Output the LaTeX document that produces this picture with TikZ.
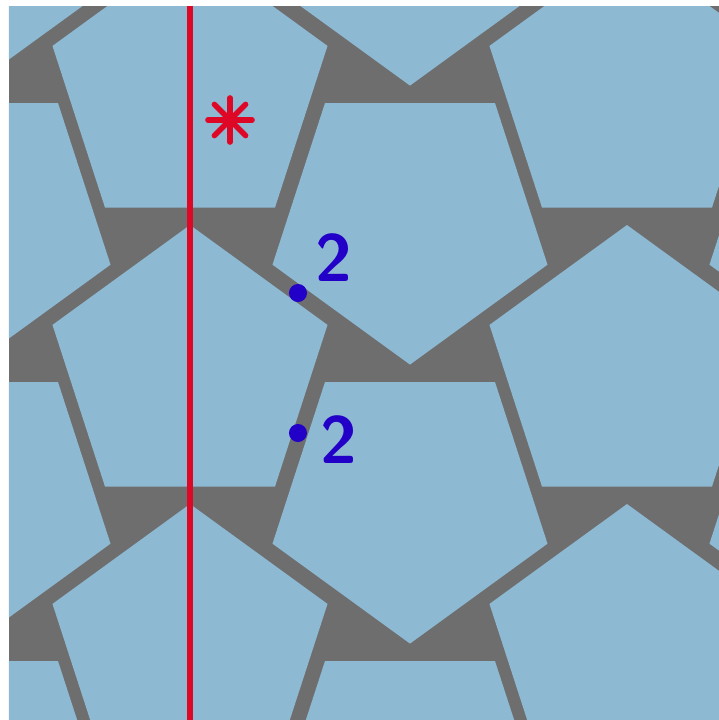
\documentclass[tikz,border=0pt]{standalone}
\definecolor{tile}{RGB}{141,185,211}
\definecolor{gap}{RGB}{110,110,110}
\definecolor{mirror}{RGB}{222,8,38}
\definecolor{rot}{RGB}{34,0,200}
\begin{document}
\begin{tikzpicture}[x=0.01cm,y=0.01cm]
\useasboundingbox (0,0) rectangle (719,720);
\fill[gap] (9,0) rectangle (719,714);
\begin{scope}
\clip (9,0) rectangle (719,714);
% pentagons pointing up
\foreach \cx in {-247,190,627,1064}
  \foreach \cy in {908.4,629.4,350.4,71.4,-207.6}
    \fill[tile,shift={(\cx,\cy)}] (90:144.6) -- (162:144.6) -- (234:144.6) -- (306:144.6) -- (18:144.6) -- cycle;
% pentagons pointing down
\foreach \cx in {-27,410,847}
  \foreach \cy in {1058,779,500,221,-58}
    \fill[tile,shift={(\cx,\cy)}] (270:144.6) -- (342:144.6) -- (54:144.6) -- (126:144.6) -- (198:144.6) -- cycle;
\end{scope}
\draw[mirror,line width=1.6pt] (190,0) -- (190,714);
\foreach \a in {0,45,90,135}
  \draw[mirror,line width=1.6pt,line cap=round] (230,600) ++(\a:22) -- ++(\a+180:44);
\node[circle,fill=rot,inner sep=0pt,minimum size=0.18cm] (d1) at (298,427) {};
\node[circle,fill=rot,inner sep=0pt,minimum size=0.18cm] (d2) at (298,287) {};
\node[rot,font=\fontsize{19}{19}\selectfont\sffamily\bfseries] (n1) at (334,462) {2};
\node[rot,font=\fontsize{19}{19}\selectfont\sffamily\bfseries] (n2) at (339,280) {2};
\end{tikzpicture}
\end{document}
